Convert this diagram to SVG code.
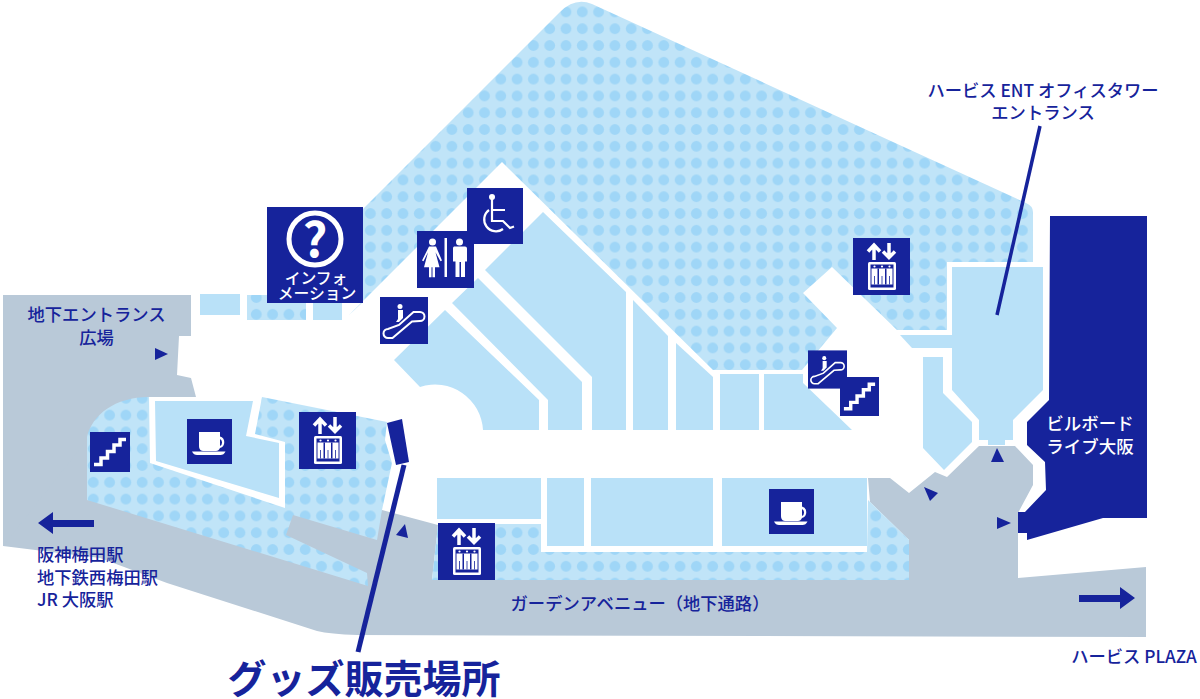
<svg xmlns="http://www.w3.org/2000/svg" xmlns:xlink="http://www.w3.org/1999/xlink" width="1200" height="699" viewBox="0 0 1200 699">
<style>
.g{fill:#b9c9d8}.l{fill:#b9e1f8}.w{fill:#fff}.d{fill:#16239b}.p{fill:url(#dots)}
text{font-family:"Noto Sans CJK JP","Noto Sans",sans-serif;font-weight:500;fill:#16239b;text-anchor:middle}
.t{font-size:17.300px}
.st{text-anchor:start}
.wt{fill:#fff}
.inf{font-size:15.800px}
</style>
<defs>
<pattern id="dots" patternUnits="userSpaceOnUse" x="3.65" y="3.5" width="16.3" height="16.8">
<rect width="16.3" height="16.8" fill="#c0e4f8"/><circle cx="8.15" cy="8.4" r="5.4" fill="#9fd6f7"/>
</pattern>
<symbol id="elev" viewBox="0 0 57 57" overflow="visible">
<rect width="57" height="57" class="d"/>
<path d="M21 22V8M15 13.500L21 7L27 13.500M36 5V19M30 13.500L36 19.500L42 13.500" fill="none" stroke="#fff" stroke-width="3.500"/>
<rect x="15" y="24" width="28" height="28" fill="#fff" rx="1.500"/>
<rect x="17.500" y="26.500" width="23" height="23" class="d"/>
<rect x="18.500" y="30.500" width="21" height="16" fill="#fff"/>
<g class="d"><rect x="24.500" y="30.500" width="1.500" height="16"/><rect x="32" y="30.500" width="1.500" height="16"/>
<rect x="21" y="38" width=".8" height="8.500"/><rect x="28.600" y="38" width=".8" height="8.500"/><rect x="36" y="38" width=".8" height="8.500"/></g>
<g class="w"><circle cx="21.500" cy="28.500" r="1.100"/><circle cx="29" cy="28.500" r="1.100"/><circle cx="36.500" cy="28.500" r="1.100"/></g>
</symbol>
<symbol id="coffee" viewBox="0 0 45 45" overflow="visible">
<rect width="45" height="45" class="d"/>
<path class="w" d="M12 13h21v4.500a6 6 0 0 1 0 11.500c-1 2-2 3-4 3H16c-3 0-4-3-4-5zM33 20v7a4 4 0 0 0 0-7z" fill-rule="evenodd"/>
<path class="w" d="M5 32.500h33.500c-1 2.500-3 3.500-5 3.500H10c-2 0-4-1-5-3.500z"/>
</symbol>
<symbol id="stairs" viewBox="0 0 40 40" overflow="visible">
<rect width="40" height="40" class="d"/>
<path d="M4 32.500H11V26H17.500V19.500H24V13H30V7.500H36" fill="none" stroke="#fff" stroke-width="3.500"/>
</symbol>
<symbol id="esc" viewBox="0 0 48 47" overflow="visible">
<rect width="48" height="47" class="d"/>
<circle cx="20" cy="9.500" r="2.500" class="w"/>
<path class="w" d="M18 13h5v8l-4 4h-3l2-3z"/>
<path d="M8 41h4.500L32 24.500l8-.5a3.500 3.500 0 0 0 0-9h-6.500L19 28 8 32a4.500 4.500 0 0 0 0 9z" fill="none" stroke="#fff" stroke-width="2"/>
</symbol>
</defs>

<g id="ground">
<path class="g" d="M3 295H191V336H179L177 375L191 378L196 397L150 397L87 440V546H3Z"/>
<path class="g" d="M3 546L87 440L87 500L290 510L382 510L438 525L432 580L909 580L909 540L870 502L868 478H890L909 493L935 472L947 477L979 446H1015L1033 465V485L1018 513V578L1146 567V637L357 635Q330 634 317 631L167 583L100 558L3 546Z"/>
<rect class="g" x="130" y="437" width="17" height="29"/>
</g>

<g id="dotted-areas">
<path class="p" d="M349 315L362 303L362 210L560 12Q575 -3 592 4L1026 203Q1033 206 1033 212V262H947V330H897L832 267L803 293L837 328L802 370L713 370L502 162L349 315Z"/>
<path class="p" d="M87 437V500L368 586L367 573L286 535L293 515L377 540L382 510L392 463L385 440L387 422L262 397L149 397C115 397 92 415 87 437Z"/>
<rect class="p" x="247" y="295" width="59" height="25"/>
<path class="p" d="M432 580L438 524L541 524L541 552H867L868 500L909 540V580Z"/>
</g>

<g id="shops">
<rect class="l" x="200" y="294" width="40" height="21"/>
<rect class="l" x="313" y="303" width="29" height="17"/>
<path class="w" d="M149 397H262L255 434L285 442V508L150 463Z"/>
<path class="l" d="M155 401H253L246 436L279 443V498L156 461Z"/>
<path class="l" d="M543 212L626 292V430H592V377L485 270Z"/>
<path class="l" d="M478 278L582 382V430H548V400L452 303Z"/>
<path class="l" d="M445 310L539 400V430H483A48 48 0 0 0 420 387L394 360Z"/>
<path class="l" d="M633 300L668 336V430H633Z"/>
<path class="l" d="M676 343L713 377V430H676Z"/>
<rect class="l" x="720" y="374" width="39" height="56"/>
<path class="l" d="M764 374H803V383L852 430H764Z"/>
<path class="w" d="M541 519V552H867V546H541Z"/>
<rect class="l" x="437" y="478" width="104" height="41"/>
<rect class="l" x="547" y="478" width="37" height="68"/>
<rect class="l" x="591" y="478" width="122" height="68"/>
<rect class="l" x="722" y="478" width="145" height="68"/>
<path class="l" d="M952 267H1043V390L1013 420V440H1005V445H988V440H979V420L952 390Z"/>
<path class="l" d="M900 335H952V348H912Z"/>
<path class="l" d="M923 357H943V393L972 422V442L944 470L923 448Z"/>
<path id="billboard-shape" class="d" d="M1050 216H1147V518H1103L1027 540V533H1018V512H1025L1046 490L1045 462L1027 445V422L1049 400Z"/>
<path id="goods-booth" class="d" d="M387 423L402 419L409 462L396 465Z"/>
</g>

<g id="connectors" fill="none" stroke="#16239b">
<line x1="404" y1="465" x2="358" y2="652" stroke-width="5"/>
<line x1="1040" y1="126" x2="997" y2="315" stroke-width="3.500"/>
</g>

<g id="info"><rect class="d" x="267" y="207" width="96" height="96"/>
<circle cx="315" cy="239" r="26" fill="none" stroke="#fff" stroke-width="5"/>
<text x="315" y="257" class="wt" style="font-size:48px;font-weight:700">?</text>
<text x="316" y="284" class="wt inf">インフォ</text>
<text x="317" y="299" class="wt inf">メーション</text></g>
<g id="toilet"><rect class="d" x="417" y="231" width="57" height="57"/>
<g class="w"><circle cx="432.500" cy="242" r="3.500"/><path d="M429 246.500h7l6 14-1.500 .8-5-9 4 15h-4.500v10h-2.500v-10h-1v10H429v-10h-5l4-15-4.500 9-1.500-.8z"/>
<rect x="444.500" y="238" width="2.500" height="39"/>
<circle cx="459.500" cy="242" r="3.500"/><path d="M454 246.500h11a2 2 0 0 1 2 2v13h-2v-10v25.500h-4v-15h-1.500v15H455.500v-25.500v10h-2.500v-13a2 2 0 0 1 1-2z"/></g></g>
<g id="wheelchair"><rect class="d" x="467" y="188" width="56" height="56"/>
<g fill="none" stroke="#fff" stroke-width="2.200"><path d="M492 199V221H503L510 228L514 226.500M492 210H505"/><path d="M489 210A11.500 11.500 0 1 0 503 229"/></g>
<circle cx="492" cy="197" r="3" class="w"/></g>
<g id="escalator-1"><use xlink:href="#esc" href="#esc" x="380" y="297" width="48" height="47"/></g>
<g id="escalator-2"><use xlink:href="#esc" href="#esc" x="808" y="350" width="39" height="39"/></g>
<g id="stairs-1"><use xlink:href="#stairs" href="#stairs" x="90" y="432" width="40" height="40"/></g>
<g id="stairs-2"><use xlink:href="#stairs" href="#stairs" x="840" y="377" width="39" height="39"/></g>
<g id="elevator-1"><use xlink:href="#elev" href="#elev" x="299" y="412" width="57" height="57"/></g>
<g id="elevator-2"><use xlink:href="#elev" href="#elev" x="853" y="238" width="57" height="57"/></g>
<g id="elevator-3"><use xlink:href="#elev" href="#elev" x="438" y="523" width="57" height="57"/></g>
<g id="cafe-1"><use xlink:href="#coffee" href="#coffee" x="187" y="419" width="45" height="45"/></g>
<g id="cafe-2"><use xlink:href="#coffee" href="#coffee" x="769" y="489" width="45" height="45"/></g>

<g id="markers" class="d">
<path d="M155 348V360L168 354Z"/><path d="M997 448L991 462H1004Z"/><path d="M924 487L938 493L930 501Z"/><path d="M997 517L1011 523L997 529Z"/><path d="M405 524L396 535L408 538Z"/>
<path d="M38 523L53 512V520H94V527H53V534Z"/><path d="M1135 598L1120 587V595H1079V602H1120V609Z"/>
</g>

<g id="label-entrance-plaza"><text x="96.500" y="321" class="t">地下エントランス</text><text x="96.500" y="344" class="t">広場</text></g>
<g id="label-tower"><text x="1043" y="97" class="t">ハービス ENT オフィスタワー</text><text x="1043" y="119" class="t">エントランス</text></g>
<g id="label-billboard"><text x="1090" y="430" class="wt" style="font-size:17.500px">ビルボード</text><text x="1090" y="453" class="wt" style="font-size:17.500px">ライブ大阪</text></g>
<g id="label-stations"><text x="37" y="561" class="t st">阪神梅田駅</text><text x="37" y="584" class="t st">地下鉄西梅田駅</text><text x="37" y="606" class="t st">JR 大阪駅</text></g>
<g id="label-avenue"><text x="640" y="610" class="t">ガーデンアベニュー（地下通路）</text></g>
<g id="label-plaza"><text x="1134" y="663" class="t">ハービス PLAZA</text></g>
<g id="label-goods"><text x="364" y="693" style="font-size:39px;font-weight:700">グッズ販売場所</text></g>
</svg>
